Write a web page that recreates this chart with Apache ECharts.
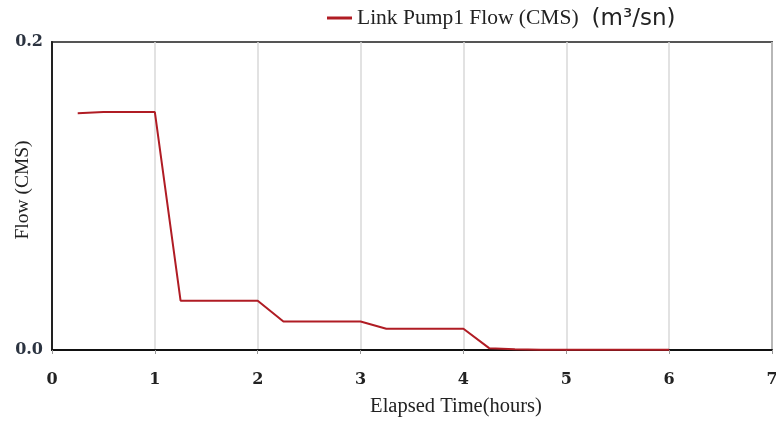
<!DOCTYPE html>
<html><head><meta charset="utf-8">
<script src="https://cdn.jsdelivr.net/npm/echarts@6/dist/echarts.min.js"></script>
<style>html,body{margin:0;padding:0;background:#fff}#c{width:776px;height:427px}</style>
</head><body><div id="c"></div>
<script>
const seriesName = 'Link Pump1 Flow (CMS)';
const unitText = '(m\u00b3/sn)';
const hours = [0.25,0.5,0.75,1,1.25,1.5,1.75,2,2.25,2.5,2.75,3,3.25,3.5,3.75,4,4.25,4.5,4.75,5,5.25,5.5,5.75,6];
const flow  = [0.1538,0.1545,0.1545,0.1545,0.032,0.032,0.032,0.032,0.0185,0.0185,0.0185,0.0185,0.0138,0.0138,0.0138,0.0138,0.0012,0.0005,0.0002,0.0001,0.0001,0.0001,0.0001,0.0001];
const xTicks = [0,1,2,3,4,5,6,7];
const yTicks = [0.0,0.2];

const chart = echarts.init(document.getElementById('c'));
chart.setOption({
  animation:false,
  backgroundColor:'#fff',
  grid:{left:52,right:4,top:42,bottom:77,containLabel:false,outerBoundsMode:'none',
        show:true,borderColor:'#555',borderWidth:2,backgroundColor:'transparent'},
  legend:{
    left:322, top:2, itemWidth:25, itemHeight:3, icon:'rect', itemGap:5,
    data:[seriesName],
    formatter: n => '{a|' + n + '}{b|' + unitText + '}',
    textStyle:{rich:{
      a:{fontFamily:'Liberation Serif',fontSize:21.5,color:'#222'},
      b:{fontFamily:'DejaVu Sans',fontSize:23,color:'#222',padding:[2,0,0,13]}
    }}
  },
  xAxis:{
    type:'value', min:0, max:7, interval:1,
    name:'Elapsed Time(hours)', nameLocation:'middle', nameGap:46,
    nameTextStyle:{fontFamily:'Liberation Serif',fontSize:20.5,color:'#222',padding:[0,0,0,88]},
    axisLine:{show:true,lineStyle:{color:'#111',width:2}},
    axisTick:{show:true,length:4,lineStyle:{color:'#999'}},
    axisLabel:{fontFamily:'DejaVu Serif',fontSize:16,color:'#222',margin:22,fontWeight:'bold',
      formatter:v=>xTicks.includes(v)?String(v):''},
    splitLine:{show:true,lineStyle:{color:'#d8d8d8',width:1.5}}
  },
  yAxis:{
    type:'value', min:0, max:0.2, interval:0.2,
    name:'Flow (CMS)', nameLocation:'middle', nameGap:19, nameRotate:90, nameMoveOverlap:false,
    nameTextStyle:{fontFamily:'Liberation Serif',fontSize:19.5,color:'#222',padding:[0,0,0,12]},
    axisLine:{show:true,lineStyle:{color:'#222',width:2}},
    axisTick:{show:false},
    axisLabel:{fontFamily:'DejaVu Serif',fontSize:16,fontWeight:'bold',color:'#2b3340',margin:9,
      formatter:v=>yTicks.some(t=>Math.abs(t-v)<1e-9)?v.toFixed(1):''},
    splitLine:{show:false}
  },
  series:[{
    name:seriesName, type:'line', showSymbol:false, symbol:'none',
    data:hours.map((h,i)=>[h,flow[i]]),
    lineStyle:{color:'#b01c24',width:2},
    itemStyle:{color:'#b01c24'}
  }]
});
</script></body></html>
